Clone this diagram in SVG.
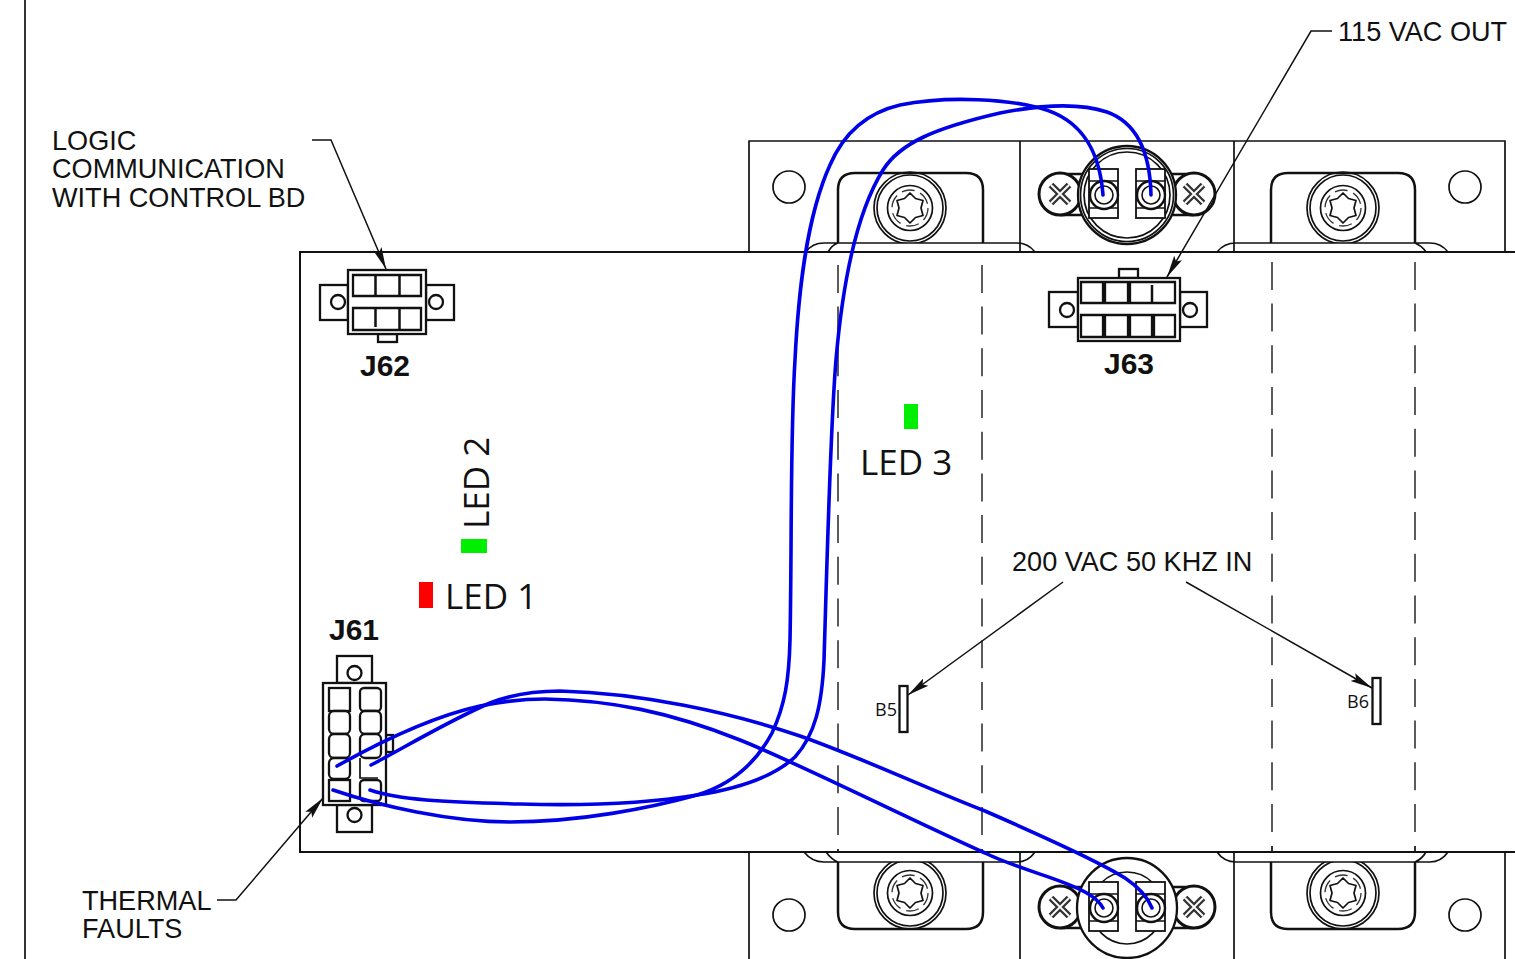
<svg xmlns="http://www.w3.org/2000/svg" width="1515" height="959" viewBox="0 0 1515 959">
<style>
.l{fill:none;stroke:#111;stroke-width:1.7}
.h{fill:none;stroke:#111;stroke-width:2.5}
.f{fill:#fff;stroke:#111;stroke-width:2.3}
.d{fill:none;stroke:#333;stroke-width:1.6;stroke-dasharray:28 13.7}
.w{fill:none;stroke:#0000e8;stroke-width:3.6;stroke-linecap:round}
.a{fill:none;stroke:#111;stroke-width:1.5}
.t{font-family:"Liberation Sans",Arial,sans-serif;font-size:27.1px;fill:#111}
.b{font-family:"Liberation Sans",Arial,sans-serif;font-size:30px;font-weight:bold;fill:#111}
.e{font-family:"Open Sans","Noto Sans",sans-serif;font-size:35px;fill:#111}
.s{font-family:"Open Sans","Noto Sans",sans-serif;font-size:18px;fill:#111}
</style>
<defs>
<marker id="arr" markerUnits="userSpaceOnUse" markerWidth="24" markerHeight="12" refX="22" refY="6" orient="auto"><path d="M0 1.500L22 6L0 10.500L4 6Z" fill="#111"/></marker>
<clipPath id="cT"><rect x="700" y="100" width="815" height="143"/></clipPath>
<clipPath id="cB"><rect x="700" y="862" width="815" height="97"/></clipPath>
<g id="screw">
<circle r="36" class="l"/><circle r="33" class="l"/><circle r="22.500" class="l"/>
<circle r="18" fill="none" stroke="#333" stroke-width="1.300" stroke-dasharray="13 6"/>
<path d="M0 -15L5.500 -9.500L13 -7.500L11 0L13 7.500L5.500 9.500L0 15L-5.500 9.500L-13 7.500L-11 0L-13 -7.500L-5.500 -9.500Z" fill="#fff" stroke="#111" stroke-width="1.700" stroke-linejoin="round"/>
</g>
<g id="ear">
<circle r="21" fill="#fff" stroke="#111" stroke-width="3"/>
<path d="M-9 -9L9 9M9 -9L-9 9" stroke="#333" stroke-width="6.500"/>
<path d="M-9 -9L9 9M9 -9L-9 9" stroke="#fff" stroke-width="1.800"/>
</g>
<g id="term">
<rect x="-15" y="-26" width="29" height="49" fill="#fff" stroke="#111" stroke-width="1.800"/>
<path d="M-15 -14H14M-15 13H14" stroke="#111" stroke-width="1.500"/>
<circle r="14" fill="#fff" stroke="#111" stroke-width="2.400"/>
<circle r="9" fill="#fff" stroke="#111" stroke-width="1.600"/>
</g>
</defs>
<rect width="1515" height="959" fill="#fff"/>
<path id="frame" d="M25 0V959" fill="none" stroke="#333" stroke-width="2"/>

<g id="bracket-top">
<path class="l" d="M749 252V141H1505V252M1020 141V252M1234 141V252"/>
<circle class="l" cx="789" cy="187" r="16"/>
<circle class="l" cx="1465" cy="187" r="16"/>
<path class="h" d="M838 243V190Q838 173 855 173H966Q983 173 983 190V243"/>
<path class="h" d="M1271 243V190Q1271 173 1288 173H1398Q1415 173 1415 190V243"/>
<g clip-path="url(#cT)"><use href="#screw" x="910" y="208"/><use href="#screw" x="1343" y="208"/></g>
<path class="l" d="M806 252Q812 243 824 243H1017Q1028 243 1035 252M828 252Q832 245 838 243"/>
<path class="l" d="M1217 252Q1224 243 1236 243H1430Q1441 243 1448 252M1415 243Q1422 246 1426 252"/>
</g>

<g id="switch-top">
<path class="h" d="M1060 174H1194M1060 215H1194"/>
<use href="#ear" x="1060" y="194"/>
<use href="#ear" x="1194" y="194"/>
<circle cx="1127" cy="195" r="49" class="f"/>
<circle cx="1127" cy="195" r="46.500" class="l"/>
<circle cx="1127" cy="195" r="43" class="l"/>
<use href="#term" x="1104" y="195"/>
<use href="#term" x="1151" y="195"/>
</g>

<g id="board">
<rect x="300" y="252" width="1230" height="600" fill="#fff" stroke="#111" stroke-width="2"/>
<path class="d" d="M838 835V252M982 835V252M1272 832V252M1415 832V252"/>
<path class="l" d="M838 849V852M982 849V852M1272 846V852M1415 846V852"/>
</g>

<g id="bracket-bottom">
<path class="l" d="M749 852V959M1020 852V959M1234 852V959M1505 852V959"/>
<circle class="l" cx="789" cy="915" r="16"/>
<circle class="l" cx="1465" cy="915" r="16"/>
<path class="h" d="M838 862V912Q838 929 855 929H966Q983 929 983 912V862"/>
<path class="h" d="M1271 862V912Q1271 929 1288 929H1398Q1415 929 1415 912V862"/>
<g clip-path="url(#cB)"><use href="#screw" x="910" y="893"/><use href="#screw" x="1343" y="893"/></g>
<path class="l" d="M804 852Q812 862 824 862H1017Q1028 862 1035 852M826 852Q832 860 838 862"/>
<path class="l" d="M1217 852Q1224 862 1236 862H1430Q1441 862 1448 852M1415 862Q1422 859 1426 852"/>
</g>

<g id="switch-bottom">
<path class="h" d="M1060 887H1194M1060 928H1194"/>
<use href="#ear" x="1060" y="907"/>
<use href="#ear" x="1194" y="907"/>
<circle cx="1127" cy="908" r="50" class="f"/>
<circle cx="1127" cy="908" r="36" class="l"/>
<use href="#term" x="1104" y="908"/>
<use href="#term" x="1151" y="908"/>
</g>

<g id="J62">
<rect class="f" x="320" y="285" width="28" height="35"/><rect class="f" x="426" y="285" width="28" height="35"/>
<circle class="f" cx="338" cy="302" r="7"/><circle class="f" cx="436" cy="302" r="7"/>
<rect class="f" x="378" y="334" width="19" height="8"/>
<rect class="f" x="348" y="270" width="78" height="64"/>
<path class="f" d="M353 275H421V296H353ZM353 308H421V330H353Z"/>
<path class="h" d="M375.500 275V296M399.500 275V296M375.500 308V327M399.500 308V330"/>
<text class="b" x="360" y="376">J62</text>
</g>

<g id="J63">
<rect class="f" x="1049" y="292" width="29" height="35"/><rect class="f" x="1180" y="292" width="27" height="35"/>
<circle class="f" cx="1067" cy="310" r="7"/><circle class="f" cx="1190" cy="310" r="7"/>
<rect class="f" x="1119" y="269" width="19" height="9"/>
<rect class="f" x="1078" y="278" width="102" height="63"/>
<path class="f" d="M1081 282H1103V303H1081ZM1105 282H1128V303H1105ZM1130 282H1175V303H1130ZM1081 315H1103V337H1081ZM1105 315H1128V337H1105ZM1130 315H1152V337H1130ZM1154 315H1175V337H1154Z"/>
<path class="h" d="M1152 285V303"/>
<text class="b" x="1104" y="374">J63</text>
</g>

<g id="J61">
<rect class="f" x="337" y="656" width="35" height="27"/><rect class="f" x="337" y="805" width="35" height="27"/>
<circle class="f" cx="354.500" cy="673" r="7"/><circle class="f" cx="354.500" cy="815" r="7"/>
<rect class="f" x="386" y="735" width="7" height="17"/>
<rect class="f" x="323" y="683" width="63" height="122"/>
<rect class="f" x="329" y="688" width="21" height="23"/><rect class="f" x="329" y="711" width="21" height="23" rx="5"/><rect class="f" x="329" y="734" width="21" height="24" rx="5"/><rect class="f" x="329" y="758" width="21" height="21" rx="5"/><rect class="f" x="329" y="780" width="21" height="21"/>
<rect class="f" x="360" y="688" width="21" height="23" rx="4"/><rect class="f" x="360" y="711" width="21" height="23" rx="5"/><rect class="f" x="360" y="734" width="21" height="24" rx="5"/><path class="l" d="M360 758V778H378"/><rect class="f" x="360" y="780" width="21" height="21" rx="4"/>
<text class="b" x="329" y="640">J61</text>
</g>

<g id="LED1"><rect x="419" y="582" width="14" height="26" fill="#ff0000"/><text class="e" x="445" y="609">LED 1</text></g>
<g id="LED2"><rect x="461" y="539" width="26" height="14" fill="#00ee00"/><text class="e" transform="translate(489 529) rotate(-90)">LED 2</text></g>
<g id="LED3"><rect x="904" y="404" width="14" height="25" fill="#00ee00"/><text class="e" x="860" y="475">LED 3</text></g>

<g id="B5"><rect class="f" x="899.500" y="686" width="8" height="46"/><text class="s" x="875" y="716">B5</text></g>
<g id="B6"><rect class="f" x="1372.500" y="678" width="8" height="46"/><text class="s" x="1347" y="708">B6</text></g>

<g id="labels">
<text class="t" x="52" y="150">LOGIC</text>
<text class="t" x="52" y="178">COMMUNICATION</text>
<text class="t" x="52" y="207">WITH CONTROL BD</text>
<text class="t" x="1338" y="41">115 VAC OUT</text>
<text class="t" x="1012" y="571">200 VAC 50 KHZ IN</text>
<text class="t" x="82" y="910">THERMAL</text>
<text class="t" x="82" y="938">FAULTS</text>
</g>

<g id="connectors">
<path class="a" d="M312 140H331L386 269" marker-end="url(#arr)"/>
<path class="a" d="M1332 31H1311L1167 277" marker-end="url(#arr)"/>
<path class="a" d="M1063 582L908 695" marker-end="url(#arr)"/>
<path class="a" d="M1186 582L1372 688" marker-end="url(#arr)"/>
<path class="a" d="M217 900H236L323 798" marker-end="url(#arr)"/>
<path class="w" d="M333 790C380 806 450 822 510 822C580 822 650 808 697 795C730 785 755 765 772 733C785 705 789 680 790 640C792 540 790 440 795 360C798 300 805 220 830 165C845 130 870 112 900 105C950 95 1010 100 1040 108C1085 120 1100 155 1103 195"/>
<path class="w" d="M370 790C400 800 440 802 520 804C590 806 650 803 697 795C730 790 770 780 795 757C815 735 822 705 824 660C826 600 830 430 836 360C842 290 855 215 883 170C900 143 935 128 1000 113C1040 105 1080 103 1107 112C1135 122 1150 150 1151 195"/>
<path class="w" d="M371 765C400 750 450 720 490 703C515 693 540 691 560 691C640 693 730 712 800 736C860 757 930 790 985 811C1040 835 1100 862 1125 878C1140 888 1148 898 1152 908"/>
<path class="w" d="M337 766C380 742 430 717 480 706C510 700 530 699 545 699C610 700 670 712 740 740C800 764 900 815 985 853C1020 870 1060 878 1085 892Q1098 899 1103 908"/>
</g>
</svg>
